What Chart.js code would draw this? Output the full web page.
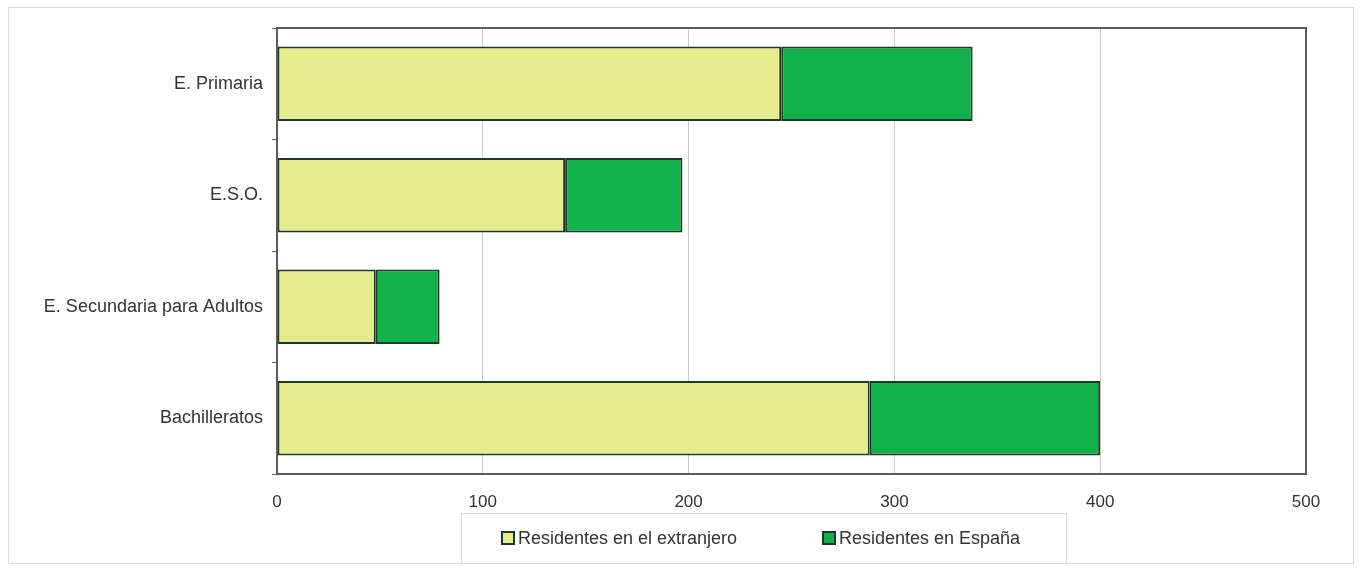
<!DOCTYPE html>
<html>
<head>
<meta charset="utf-8">
<script src="https://cdn.jsdelivr.net/npm/chart.js@4"></script>
<style>
  body { margin: 0; background: #fff; }
  #wrap { position: relative; width: 1361px; height: 571px; }
</style>
</head>
<body>
<div id="wrap"><canvas id="chart" width="1361" height="571"></canvas></div>
<script>
// Data
const categories = ['E. Primaria', 'E.S.O.', 'E. Secundaria para Adultos', 'Bachilleratos'];
const seriesNames = ['Residentes en el extranjero', 'Residentes en España'];
const extranjero = [245, 140, 48, 288];
const espana = [93, 57, 31, 112];
const xTicks = [0, 100, 200, 300, 400, 500];

const FONT = "'Liberation Sans', Arial, sans-serif";
const yellow = '#e6eb8e';
const green = '#12b24a';
const edge = '#1d3a28';

// Outer frame, plot border and the boxed legend
const decorations = {
    id: 'decorations',
    beforeDraw(chart) {
        const ctx = chart.ctx;
        ctx.save();
        ctx.fillStyle = '#fff';
        ctx.fillRect(0, 0, chart.width, chart.height);
        ctx.strokeStyle = '#dcdcdc';
        ctx.lineWidth = 1;
        ctx.strokeRect(8.5, 7.5, 1345, 556);
        ctx.restore();
    },
    afterDraw(chart) {
        const ctx = chart.ctx;
        const a = chart.chartArea;
        ctx.save();
        // plot frame
        ctx.strokeStyle = '#5c5c5c';
        ctx.lineWidth = 2;
        ctx.strokeRect(a.left, a.top, a.right - a.left, a.bottom - a.top);

        // legend box
        const box = { left: 461, top: 513, width: 605, height: 50 };
        ctx.strokeStyle = '#d8d8d8';
        ctx.lineWidth = 1;
        ctx.strokeRect(box.left + 0.5, box.top + 0.5, box.width, box.height);

        ctx.font = '18px ' + FONT;
        ctx.textBaseline = 'middle';
        const midY = box.top + box.height / 2;
        const starts = [box.left + 41, box.left + 362];
        chart.data.datasets.forEach((ds, i) => {
            const x = starts[i];
            ctx.fillStyle = ds.backgroundColor;
            ctx.fillRect(x, midY - 6, 12, 12);
            ctx.strokeStyle = edge;
            ctx.lineWidth = 2;
            ctx.strokeRect(x, midY - 6, 12, 12);
            ctx.fillStyle = '#333';
            ctx.fillText(ds.label, x + 16, midY + 1);
        });
        ctx.restore();
    }
};

new Chart(document.getElementById('chart'), {
    type: 'bar',
    data: {
        labels: categories,
        datasets: [
            {
                label: seriesNames[0],
                data: extranjero,
                backgroundColor: yellow,
                borderColor: edge,
                borderWidth: 2,
                borderSkipped: false,
                barPercentage: 0.67,
                categoryPercentage: 1
            },
            {
                label: seriesNames[1],
                data: espana,
                backgroundColor: green,
                borderColor: edge,
                borderWidth: 2,
                borderSkipped: false,
                barPercentage: 0.67,
                categoryPercentage: 1
            }
        ]
    },
    options: {
        indexAxis: 'y',
        responsive: false,
        animation: false,
        layout: { padding: { top: 28, right: 55, left: 10, bottom: 0 } },
        plugins: {
            legend: { display: false },
            tooltip: { enabled: false }
        },
        scales: {
            x: {
                stacked: true,
                min: xTicks[0],
                max: xTicks[xTicks.length - 1],
                afterBuildTicks: scale => { scale.ticks = xTicks.map(v => ({ value: v })); },
                afterFit: scale => { scale.height = 97; },
                grid: { color: '#cccccc', lineWidth: 1, drawTicks: false },
                border: { display: false },
                ticks: {
                    padding: 18,
                    color: '#333',
                    font: { family: FONT, size: 17 }
                }
            },
            y: {
                stacked: true,
                afterFit: scale => { scale.width = 267; },
                grid: {
                    offset: true,
                    drawOnChartArea: false,
                    drawTicks: true,
                    tickLength: 5,
                    color: '#5c5c5c'
                },
                border: { display: false },
                ticks: {
                    padding: 9,
                    color: '#333',
                    font: { family: FONT, size: 18 }
                }
            }
        }
    },
    plugins: [decorations]
});
</script>
</body>
</html>
